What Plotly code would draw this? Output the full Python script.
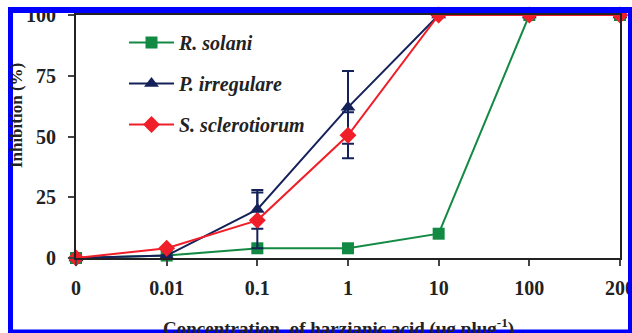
import plotly.graph_objects as go

categories = ["0", "0.01", "0.1", "1", "10", "100", "200"]
series_names = ["R. solani", "P. irregulare", "S. sclerotiorum"]
r_solani = [0, 1, 4, 4, 10, 100, 100]
p_irregulare = [0, 1, 20, 62, 100, 100, 100]
s_sclerotiorum = [0, 4, 15.5, 50.5, 100, 100, 100]
p_irregulare_err = [0, 0, 8, 15, 0, 0, 0]
s_sclerotiorum_err = [0, 0, 11.5, 9.5, 0, 0, 0]
y_ticks = [0, 25, 50, 75, 100]

colors = ["#128a44", "#15225a", "#f01e28"]
symbols = ["square", "triangle-up", "diamond"]
sizes = [12, 13, 13]
values = [r_solani, p_irregulare, s_sclerotiorum]
errors = [None, p_irregulare_err, s_sclerotiorum_err]

FONT = "Liberation Serif"

# plot area in pixels
L, R, T, B = 76, 620, 15, 257.7
W, H = R - L, B - T
def px(x):
    return (x - L) / W
def py(y):
    return (B - y) / H

fig = go.Figure()
xs = list(range(len(categories)))
for i, name in enumerate(series_names):
    kw = {}
    if errors[i] is not None:
        kw["error_y"] = dict(type="data", array=errors[i], visible=True,
                             color="#15225a", thickness=2, width=6)
    fig.add_trace(go.Scatter(
        x=xs, y=values[i], name=name, mode="lines+markers",
        legendgroup=name,
        line=dict(color=colors[i], width=2),
        marker=dict(symbol=symbols[i], size=sizes[i], color=colors[i]),
        cliponaxis=False, **kw))

fig.update_layout(
    width=632, height=333,
    margin=dict(l=L, r=632 - R, t=T, b=333 - B, autoexpand=False),
    paper_bgcolor="white", plot_bgcolor="white",
    font=dict(family=FONT, color="#222222"),
    showlegend=True,
    legend=dict(x=px(124), y=py(23), xanchor="left", yanchor="top",
                bgcolor="rgba(0,0,0,0)", tracegroupgap=12, itemwidth=45,
                font=dict(family=FONT, size=20, color="#222222", weight="bold", style="italic")),
    xaxis=dict(range=[0, 6], tickmode="array", tickvals=xs, ticktext=categories,
               showgrid=False, zeroline=False, showline=True, linecolor="#222222",
               linewidth=2, mirror=True, ticks="outside", ticklen=6, tickwidth=1.5,
               tickcolor="#444444", ticklabelstandoff=5, ticklabeloverflow="allow",
               tickfont=dict(family=FONT, size=20, color="#222222", weight="bold")),
    yaxis=dict(range=[0, 100], tickvals=y_ticks,
               showgrid=False, zeroline=False, showline=True, linecolor="#222222",
               linewidth=2, mirror=True, ticks="outside", ticklen=6, tickwidth=1.5,
               tickcolor="#444444", ticklabelstandoff=8, ticklabeloverflow="allow",
               tickfont=dict(family=FONT, size=20, color="#222222", weight="bold")),
    annotations=[
        dict(text="Concentration  of harzianic acid (μg plug<sup>-1</sup>)",
             xref="paper", yref="paper", x=px(338), y=py(327),
             xanchor="center", yanchor="middle", showarrow=False,
             font=dict(family=FONT, size=19, color="#222222", weight="bold")),
        dict(text="Inhibition (%)", textangle=-90,
             xref="paper", yref="paper", x=px(16), y=py(116),
             xanchor="center", yanchor="middle", showarrow=False,
             font=dict(family=FONT, size=17, color="#222222", weight="bold")),
    ],
)

blue = "#0000ff"
for (x0, y0, x1, y1) in [(8, 7, 13, 333), (8, 7, 632, 13), (628, 7, 632, 333), (8, 329, 632, 333)]:
    fig.add_shape(type="rect", xref="paper", yref="paper",
                  x0=px(x0), x1=px(x1), y0=py(y0), y1=py(y1),
                  fillcolor=blue, line=dict(width=0), layer="above")

fig.write_html("out.html", config={"displayModeBar": False},
               post_script="document.body.style.margin='0';document.body.style.overflow='hidden';")
